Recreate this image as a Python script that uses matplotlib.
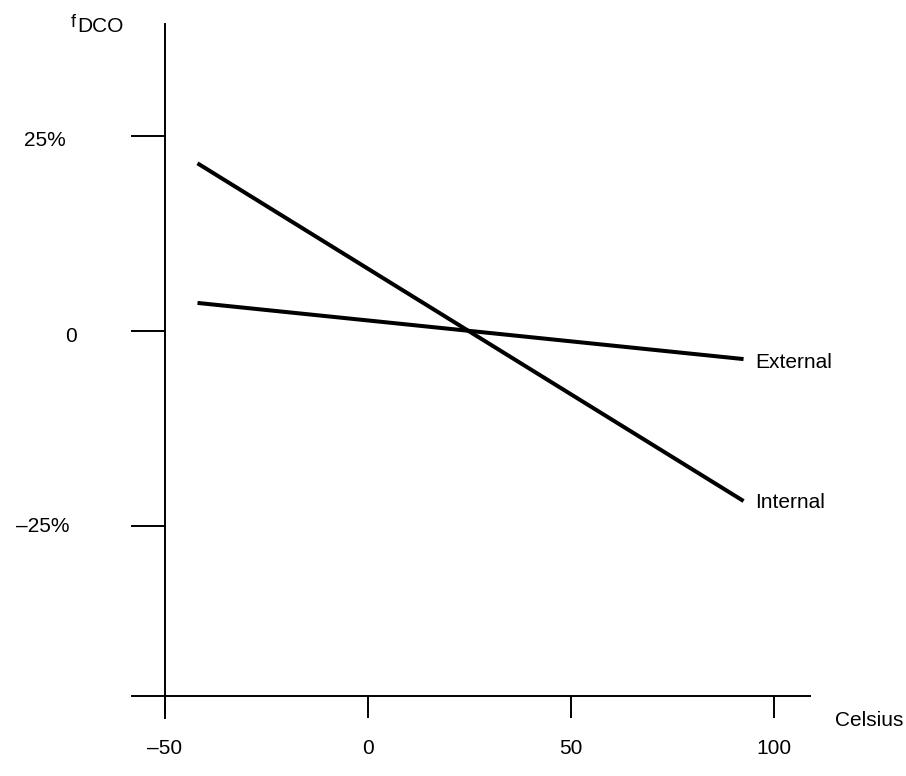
import matplotlib
matplotlib.use("Agg")
import matplotlib.pyplot as plt

plt.rcParams['font.family'] = ['Liberation Sans', 'DejaVu Sans']

# Data
temps = [-42, 92.5]
internal = [21.5, -21.8]
external = [3.6, -3.6]
x_ticks = [-50, 0, 50, 100]
x_tick_labels = ["\u201350", "0", "50", "100"]
y_ticks = [25, 0, -25]
y_tick_labels = ["25%", "0", "\u201325%"]

W, H = 906, 776
fig = plt.figure(figsize=(W / 100, H / 100), dpi=100)
ax = fig.add_axes([0, 0, 1, 1])

# pixel mapping: x_px = 368 + 4.06*x ; y_px = 331 - 7.8*y
sx, x0 = 4.06, 368
sy, y0 = 7.8, 331
def dx(px): return (px - x0) / sx
def dy(py): return (y0 - py) / sy

ax.set_xlim(dx(0), dx(W))
ax.set_ylim(dy(H), dy(0))
ax.set_facecolor('white')

# spines
for s in ['top', 'right']:
    ax.spines[s].set_visible(False)
ax.spines['left'].set_position(('data', -50))
ax.spines['bottom'].set_position(('data', dy(696)))
ax.spines['left'].set_bounds(dy(718), dy(24))
ax.spines['bottom'].set_bounds(dx(132), dx(810))
for s in ['left', 'bottom']:
    ax.spines[s].set_linewidth(1.4)
    ax.spines[s].set_color('black')

ax.set_xticks(x_ticks)
ax.set_yticks(y_ticks)
ax.set_xticklabels([])
ax.set_yticklabels([])
ax.tick_params(axis='y', direction='out', length=34 * 0.72, width=1.4, color='black')
ax.tick_params(axis='x', direction='out', length=22 * 0.72, width=1.4, color='black')

fs = 15
# tick labels
for v, lab in zip(x_ticks, x_tick_labels):
    ax.text(v, dy(748), lab, ha='center', va='center', fontsize=fs)
ylab_x = [dx(45), dx(71), dx(43)]
ylab_dy = [4, 5, 1]
for v, lab, xx, off in zip(y_ticks, y_tick_labels, ylab_x, ylab_dy):
    ax.text(xx, dy(y0 - sy * v + off), lab, ha='center', va='center', fontsize=fs)

# lines
ax.plot(temps, internal, color='black', lw=2.9, solid_capstyle='butt')
ax.plot(temps, external, color='black', lw=2.9, solid_capstyle='butt')

ax.text(dx(755), dy(362), "External", ha='left', va='center', fontsize=fs)
ax.text(dx(755), dy(502), "Internal", ha='left', va='center', fontsize=fs)
ax.text(dx(869), dy(721), "Celsius", ha='center', va='center', fontsize=fs)

# axis title f_DCO
ax.text(dx(71), dy(27), "f", ha='left', va='baseline', fontsize=13)
ax.text(dx(77), dy(32), "DCO", ha='left', va='baseline', fontsize=fs)

fig.savefig("out.png", dpi=100, facecolor='white')
